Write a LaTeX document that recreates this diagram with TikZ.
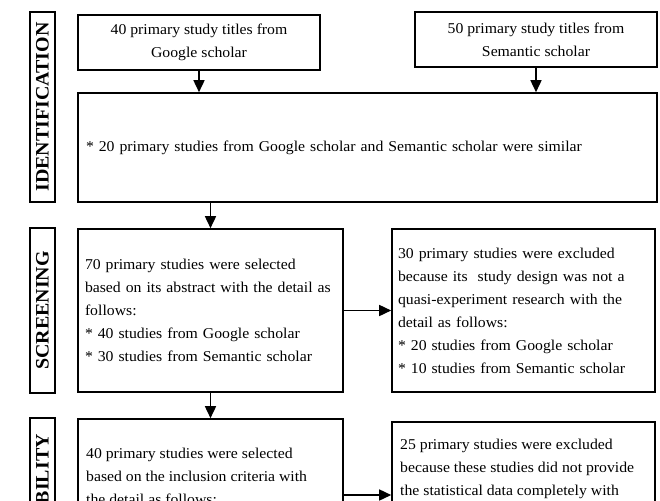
\documentclass[tikz,border=0pt]{standalone}
\usepackage{fontspec}
\setmainfont{Liberation Serif}[FakeStretch=1.05]
\usetikzlibrary{arrows.meta}
\begin{document}
\begin{tikzpicture}[x=1pt,y=-1pt,
  box/.style={draw,line width=1.6pt,inner sep=0pt,font=\fontsize{15}{23}\selectfont},
  lbox/.style={box,align=left,text width=#1},
  cbox/.style={box,align=center},
  lab/.style={draw,line width=1.6pt,inner sep=0pt,rotate=90,minimum height=25pt,font=\fontsize{19}{20}\selectfont\bfseries},
  ftxt/.style={inner sep=0pt,align=left,anchor=north west,font=\fontsize{15}{23}\selectfont},
  arr/.style={line width=1.6pt,-{Triangle[length=12pt,width=11pt]}}]
\useasboundingbox (0,0) rectangle (660,500);
\clip (0,0) rectangle (660,500);
% stage labels
\node[lab,minimum width=190pt] (idl) at (42.5,107) {IDENTIFICATION};
\node[lab,minimum width=165pt] (scl) at (42.5,310.5) {SCREENING};
\node[lab,minimum width=160pt] (ell) at (42.5,498) {ELIGIBILITY};
% identification
\node[cbox,minimum width=242pt,minimum height=55pt] (g) at (199,42.5) {40 primary study titles from\\Google scholar};
\node[cbox,minimum width=242pt,minimum height=55pt] (s) at (536,39.5) {50 primary study titles from\\Semantic scholar};
\node[lbox=563pt,minimum width=579pt,minimum height=109pt] (big) at (367.5,147.5) {{*} 20 primary studies from Google scholar and Semantic scholar were similar};
% screening
\node[lbox=251pt,minimum width=265pt,minimum height=163pt] (scL) at (210.5,310.5) {70 primary studies were selected\\based on its abstract with the detail as\\follows:\\{*} 40 studies from Google scholar\\{*} 30 studies from Semantic scholar};
\node[lbox=251pt,minimum width=263pt,minimum height=163pt] (scR) at (523.5,310.5) {30 primary studies were excluded\\because its~~study design was not a\\quasi-experiment research with the\\detail as follows:\\{*} 20 studies from Google scholar\\{*} 10 studies from Semantic scholar};
% eligibility
\node[box,minimum width=265pt,minimum height=152pt] (elL) at (210.5,495) {};
\node[box,minimum width=263pt,minimum height=152pt] (elR) at (523.5,498) {};
\node[ftxt] (elLt) at (86,447.5) {40 primary studies were selected\\based on the inclusion criteria with\\the detail as follows:};
\node[ftxt] (elRt) at (400,439) {25 primary studies were excluded\\because these studies did not provide\\the statistical data completely with};
% connectors
\draw[arr] (g.south) -- (g.south |- big.north);
\draw[arr] (s.south) -- (s.south |- big.north);
\draw[arr] (big.south -| scL.north) -- (scL.north);
\draw[arr] (scL.east) -- (scR.west);
\draw[arr] (scL.south) -- (elL.north);
\draw[arr] (elL.east) -- (elL.east -| elR.west);
\end{tikzpicture}
\end{document}
